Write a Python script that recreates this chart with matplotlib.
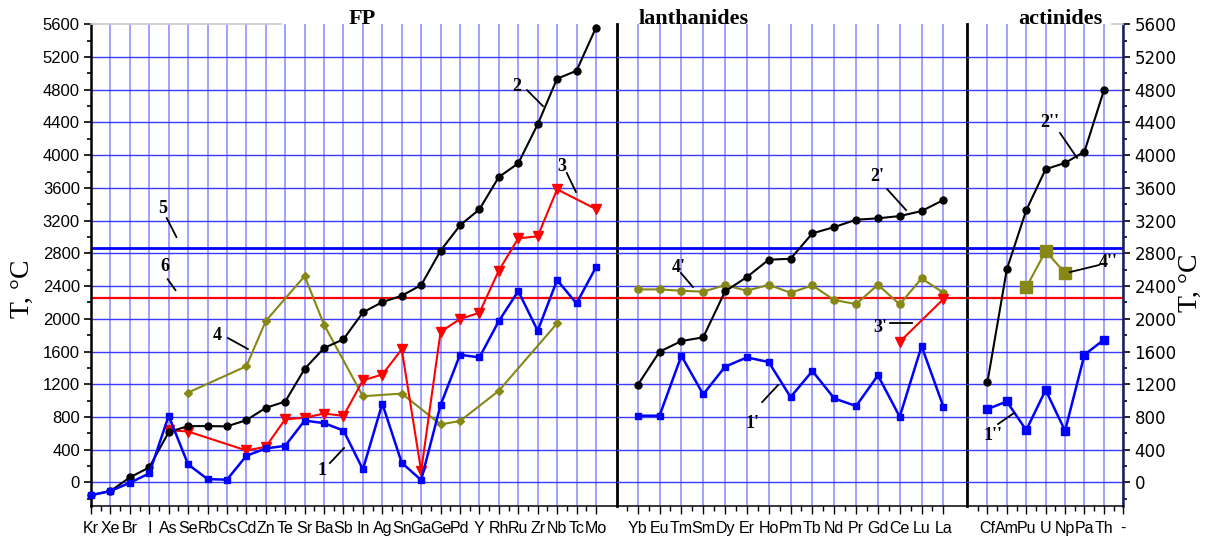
import numpy as np
import matplotlib
matplotlib.use('Agg')
import matplotlib.pyplot as plt
from matplotlib.ticker import MultipleLocator, FixedLocator

nan = np.nan

# fission products
fp_el = ['Kr', 'Xe', 'Br', 'I', 'As', 'Se', 'Rb', 'Cs', 'Cd', 'Zn', 'Te', 'Sr', 'Ba', 'Sb',
         'In', 'Ag', 'Sn', 'Ga', 'Ge', 'Pd', 'Y', 'Rh', 'Ru', 'Zr', 'Nb', 'Tc', 'Mo']
fp_1 = [-157, -106, -5, 110, 813, 220, 40, 33, 325, 415, 447, 756, 724, 634,
        159, 963, 240, 28, 945, 1560, 1528, 1972, 2339, 1854, 2473, 2188, 2630]
fp_2 = [-155, -106, 61, 183, 615, 688, 688, 685, 761, 911, 988, 1387, 1643, 1749,
        2078, 2204, 2282, 2412, 2832, 3142, 3338, 3733, 3900, 4377, 4935, 5032, 5558]
fp_3 = [nan, nan, nan, nan, 638, 622, nan, nan, 390, 435, 772, 789, 842, 813,
        1248, 1318, 1627, 138, 1841, 1997, 2074, 2590, 2983, 3008, 3582, nan, 3341]
fp_4 = [nan, nan, nan, nan, nan, 1098, nan, nan, 1420, 1973, nan, 2522, 1928, nan,
        1053, nan, 1086, nan, 709, 750, nan, 1120, nan, nan, 1944, nan, nan]

# lanthanides
ln_el = ['Yb', 'Eu', 'Tm', 'Sm', 'Dy', 'Er', 'Ho', 'Pm', 'Tb', 'Nd', 'Pr', 'Gd', 'Ce', 'Lu', 'La']
ln_1 = [815, 815, 1548, 1076, 1414, 1528, 1471, 1043, 1361, 1027, 933, 1308, 802, 1666, 924]
ln_2 = [1190, 1597, 1728, 1773, 2335, 2510, 2722, 2734, 3044, 3121, 3211, 3228, 3256, 3317, 3452]
ln_3 = [nan, nan, nan, nan, nan, nan, nan, nan, nan, nan, nan, nan, 1719, nan, 2241]
ln_4 = [2359, 2359, 2343, 2331, 2412, 2343, 2416, 2318, 2408, 2229, 2180, 2416, 2176, 2494, 2318]

# actinides
ac_el = ['Cf', 'Am', 'Pu', 'U', 'Np', 'Pa', 'Th', '-']
ac_1 = [896, 989, 639, 1129, 631, 1561, 1743]
ac_2 = [1222, 2604, 3326, 3829, 3905, 4044, 4792]
ac_4 = [nan, nan, 2383, 2827, 2561, nan, nan]

# horizontal levels 5 and 6
level_5 = 2870
level_6 = 2250

BLUE = '#0000ff'
RED = '#ff0000'
OLIVE = '#878716'
SERIF = 'Liberation Serif'
SANS = 'Liberation Sans'
NARROW = ['Liberation Sans Narrow', 'Liberation Sans']

fig = plt.figure(figsize=(12.08, 5.4), dpi=100)
W, H = 1208.0, 540.0
top, bot = 24.3, 505.7


def make_ax(x0, x1):
    a = fig.add_axes([x0 / W, 1 - bot / H, (x1 - x0) / W, (bot - top) / H])
    a.patch.set_alpha(0)
    return a


ax_fp = make_ax(91, 617.3)
ax_ln = make_ax(617.3, 967)
ax_ac = make_ax(967, 1123.3)


def draw(ax, vals, color, marker, ms, lw=1.5, z=3):
    vals = np.asarray(vals, dtype=float)
    x = np.arange(len(vals))
    ok = ~np.isnan(vals)
    ax.plot(x[ok], vals[ok], color=color, marker=marker, ms=ms, lw=lw,
            mfc=color, mec=color, zorder=z, clip_on=False)


def setup(ax, labels, xlim):
    ax.set_xlim(*xlim)
    ax.set_ylim(-285, 5600)
    n = len(labels)
    ax.xaxis.set_major_locator(FixedLocator(np.arange(n)))
    ax.xaxis.set_minor_locator(FixedLocator(np.arange(n) - 0.5))
    ax.set_xticklabels(labels, family=NARROW, fontsize=11.5)
    ax.yaxis.set_major_locator(MultipleLocator(400))
    ax.yaxis.set_minor_locator(MultipleLocator(200))
    ax.tick_params(axis='x', which='major', direction='out', length=6, width=1, pad=5)
    ax.tick_params(axis='x', which='minor', direction='out', length=3.5, width=1)
    ax.tick_params(axis='y', which='major', direction='out', length=5, width=1.2, pad=3,
                   labelsize=12)
    ax.tick_params(axis='y', which='minor', direction='out', length=3, width=1.2)
    ax.grid(axis='x', which='major', color='#7b7bff', lw=1.1, alpha=0.9, zorder=0)
    ax.grid(axis='y', which='major', color='#3a3aff', lw=1.0, zorder=0)
    ax.set_axisbelow(True)
    ax.spines['top'].set_color('#c8c8c8')
    ax.spines['top'].set_linewidth(1.2)
    ax.spines['bottom'].set_linewidth(1.1)
    ax.axhline(level_5, color=BLUE, lw=2.0, zorder=2)
    ax.axhline(level_6, color=RED, lw=1.6, zorder=2)
    for t in ax.get_yticklabels():
        t.set_family(SANS)
    # no grid line along the top edge
    fig.canvas.draw()
    for val, gl in zip(ax.get_yticks(), ax.get_ygridlines()):
        if val >= 5600:
            gl.set_visible(False)


setup(ax_fp, fp_el, (0, 27.1))
setup(ax_ln, ln_el, (-0.934, 15.08))
setup(ax_ac, ac_el, (-1.05, 7))

# spines / y ticks per panel
ax_fp.spines['left'].set_linewidth(1.8)
ax_fp.spines['right'].set_linewidth(2.0)
ax_fp.spines['top'].set_bounds(0, 9.8)
ax_fp.tick_params(axis='y', which='both', left=True, right=False, labelleft=True)
ax_ln.spines['left'].set_visible(False)
ax_ln.spines['right'].set_linewidth(2.0)
ax_ln.spines['top'].set_visible(False)
ax_ln.tick_params(axis='y', which='both', left=False, right=False, labelleft=False)
ax_ac.spines['left'].set_visible(False)
ax_ac.spines['right'].set_linewidth(1.8)
ax_ac.spines['right'].set_color('#1c1c50')
ax_ac.spines['top'].set_bounds(6.4, 7)
ax_ac.tick_params(axis='y', which='both', left=False, right=True, labelleft=False,
                  labelright=True)

# curves
draw(ax_fp, fp_4, OLIVE, 'D', 4.5)
draw(ax_fp, fp_3, RED, 'v', 6.5)
draw(ax_fp, fp_2, 'black', 'o', 5)
draw(ax_fp, fp_1, BLUE, 's', 4.8, lw=1.8)

draw(ax_ln, ln_4, OLIVE, 'o', 5.2)
draw(ax_ln, ln_3, RED, 'v', 7.5)
draw(ax_ln, ln_2, 'black', 'o', 5)
draw(ax_ln, ln_1, BLUE, 's', 4.8, lw=1.8)

draw(ax_ac, ac_4, OLIVE, 's', 8)
draw(ax_ac, ac_2, 'black', 'o', 5)
draw(ax_ac, ac_1, BLUE, 's', 5.2, lw=1.8)

# curve labels with leader lines
notes = [
    (ax_fp, '5', (3.7, 3354), (3.9, 3231), (4.4, 2999)),
    (ax_fp, '6', (3.8, 2640), (3.95, 2484), (4.35, 2350)),
    (ax_fp, '4', (6.5, 1800), (7.05, 1765), (8.08, 1630)),
    (ax_fp, '1', (11.9, 150), (12.3, 236), (13.03, 420)),
    (ax_fp, '2', (21.9, 4845), (22.45, 4796), (23.27, 4600)),
    (ax_fp, '3', (24.25, 3867), (24.5, 3782), (24.97, 3550)),
    (ax_ln, "2'", (10.96, 3745), (11.42, 3586), (12.29, 3329)),
    (ax_ln, "4'", (1.89, 2632), (1.98, 2560), (2.53, 2388)),
    (ax_ln, "3'", (11.1, 1896), (11.56, 1945), (12.56, 1945)),
    (ax_ln, "1'", (5.28, 722), (5.7, 982), (6.43, 1190)),
    (ax_ac, "2''", (3.23, 4405), (3.74, 4271), (4.62, 3966)),
    (ax_ac, "4''", (6.2, 2693), (4.25, 2571), (5.75, 2657)),
    (ax_ac, "1''", (0.29, 578), (0.55, 713), (1.37, 848)),
]
for ax, txt, tpos, p0, p1 in notes:
    ax.plot([p0[0], p1[0]], [p0[1], p1[1]], color='black', lw=1.3, zorder=4)
    ax.text(tpos[0], tpos[1], txt, family=SERIF, weight='bold', fontsize=13,
            ha='center', va='center', zorder=5)

# panel titles
for ax, title, xc in [(ax_fp, 'FP', 0.515), (ax_ln, 'lanthanides', 0.219),
                      (ax_ac, 'actinides', 0.595)]:
    ax.text(xc, 1.012, title, transform=ax.transAxes, family=SERIF, weight='bold',
            fontsize=16, ha='center', va='center')

# y-axis labels
fig.text(22 / W, 1 - 289 / H, 'T, °C', rotation=90, family=SERIF, fontsize=20,
         ha='center', va='center')
fig.text(1190 / W, 1 - 283 / H, 'T, °C', rotation=90, family=SERIF, fontsize=20,
         ha='center', va='center')

fig.savefig('out.png', dpi=100)
